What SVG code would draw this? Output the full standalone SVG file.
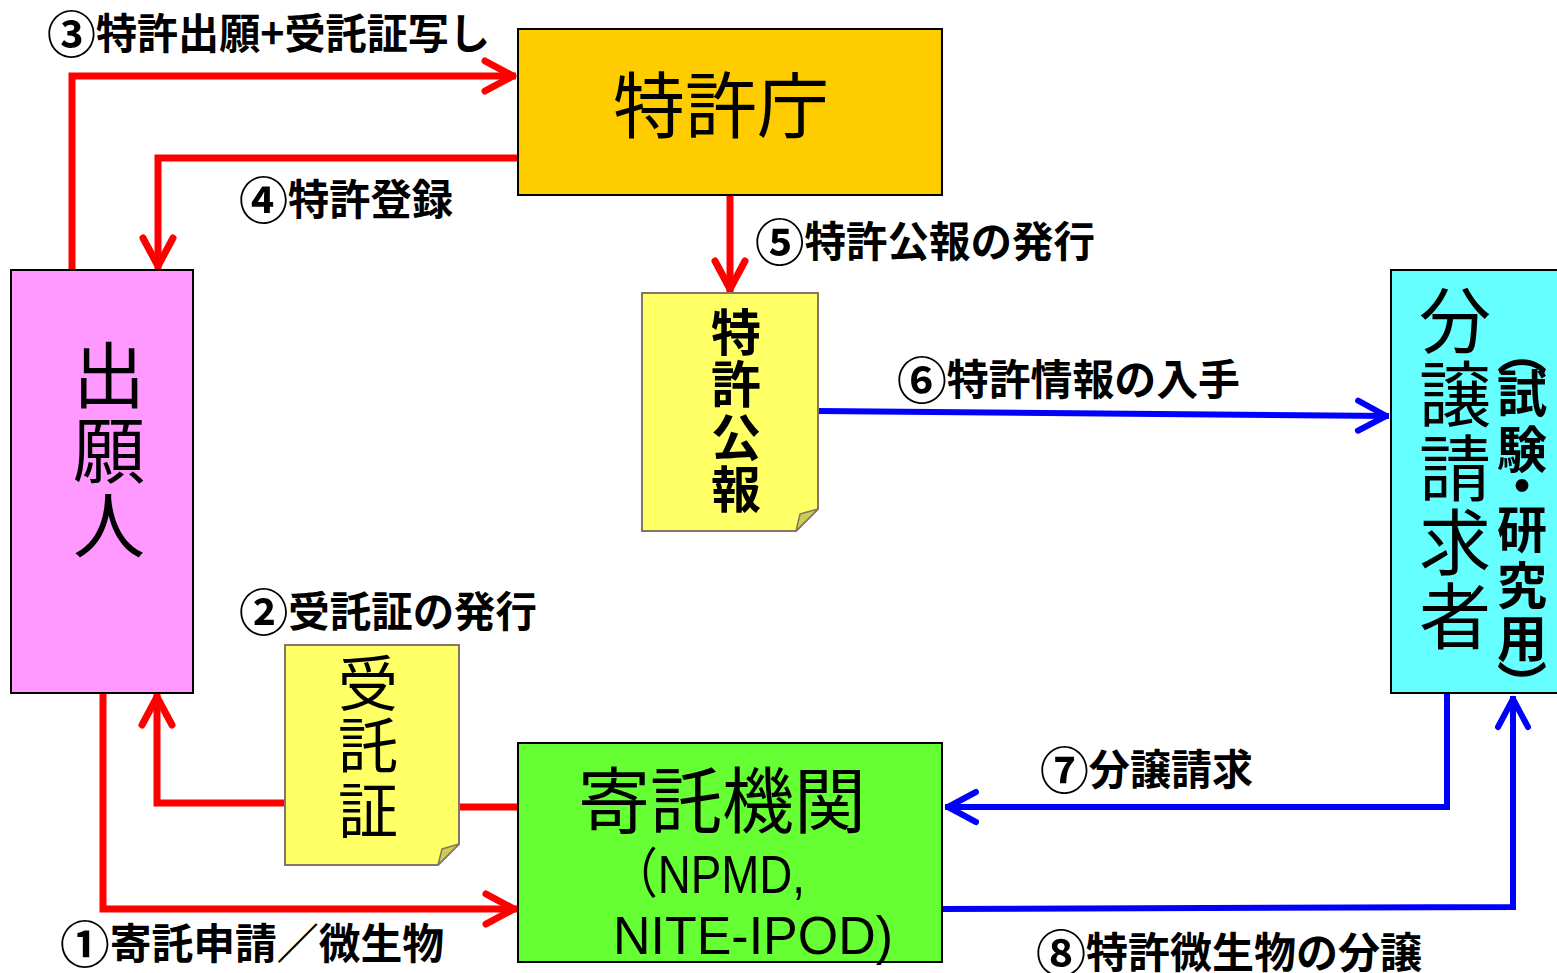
<svg xmlns="http://www.w3.org/2000/svg" width="1557" height="973" viewBox="0 0 1557 973">
<style>
.box{stroke:#000;stroke-width:2}
.note{fill:#FFFF66;stroke:#857565;stroke-width:2}
.fold{fill:#CDCD55;stroke:#857565;stroke-width:1.5;stroke-linejoin:round}
.big{font-family:"Noto Sans CJK JP","Noto Sans CJK SC",sans-serif;font-weight:400;fill:#000;text-anchor:middle}
.bv{font-family:"Noto Sans CJK JP","Noto Sans CJK SC",sans-serif;font-weight:700;fill:#000;text-anchor:middle}
.vt{font-family:"Noto Sans CJK JP","Noto Sans CJK SC",sans-serif;font-weight:700;fill:#000;writing-mode:vertical-rl}
.lbl{font-family:"Noto Sans CJK JP","Noto Sans CJK SC",sans-serif;font-weight:700;font-size:42px;fill:#000}
.cd{font-size:50px}
.lat{font-family:"Liberation Sans","Noto Sans CJK JP",sans-serif;font-size:54px;fill:#000}
.red{fill:none;stroke:#FF0000;stroke-width:7;stroke-linejoin:miter}
.blue{fill:none;stroke:#0000FF;stroke-width:6;stroke-linejoin:miter}
</style>
<defs>
<marker id="ar" markerUnits="userSpaceOnUse" viewBox="-40 -22 46 44" refX="0" refY="0" markerWidth="46" markerHeight="44" orient="auto" overflow="visible">
<path d="M-31,-15 L-3,0 L-31,15" fill="none" stroke="#FF0000" stroke-width="7" stroke-linecap="round" stroke-linejoin="round"/>
</marker>
<marker id="ab" markerUnits="userSpaceOnUse" viewBox="-40 -22 46 44" refX="0" refY="0" markerWidth="46" markerHeight="44" orient="auto" overflow="visible">
<path d="M-31,-15 L-3,0 L-31,15" fill="none" stroke="#0000FF" stroke-width="6" stroke-linecap="round" stroke-linejoin="round"/>
</marker>
</defs>
<rect width="1557" height="973" fill="#FFFFFF"/>

<g id="connectors">
<polyline class="red" points="72,270 72,76 516,76" marker-end="url(#ar)"/>
<polyline class="red" points="518,158 158,158 158,269" marker-end="url(#ar)"/>
<line class="red" x1="730" y1="195" x2="730" y2="292" marker-end="url(#ar)"/>
<line class="red" x1="459" y1="807" x2="518" y2="807"/>
<polyline class="red" points="285,803 157,803 157,694" marker-end="url(#ar)"/>
<polyline class="red" points="103,693 103,909 517,909" marker-end="url(#ar)"/>
<line class="blue" x1="818" y1="411" x2="1389" y2="416" marker-end="url(#ab)"/>
<polyline class="blue" points="1447,693 1447,807 945,807" marker-end="url(#ab)"/>
<polyline class="blue" points="942,909 1513,907 1513,696" marker-end="url(#ab)"/>
</g>

<g id="labels">
<text class="lbl" x="47" y="49" textLength="443" lengthAdjust="spacingAndGlyphs"><tspan class="cd" dy="4">③</tspan><tspan dy="-4">特許出願+受託証写し</tspan></text>
<text class="lbl" x="239" y="215" textLength="214" lengthAdjust="spacingAndGlyphs"><tspan class="cd" dy="4">④</tspan><tspan dy="-4">特許登録</tspan></text>
<text class="lbl" x="755" y="257" textLength="340" lengthAdjust="spacingAndGlyphs"><tspan class="cd" dy="4">⑤</tspan><tspan dy="-4">特許公報の発行</tspan></text>
<text class="lbl" x="897" y="395" textLength="343" lengthAdjust="spacingAndGlyphs"><tspan class="cd" dy="4">⑥</tspan><tspan dy="-4">特許情報の入手</tspan></text>
<text class="lbl" x="239" y="627" textLength="298" lengthAdjust="spacingAndGlyphs"><tspan class="cd" dy="4">②</tspan><tspan dy="-4">受託証の発行</tspan></text>
<text class="lbl" x="60" y="959" textLength="384" lengthAdjust="spacingAndGlyphs"><tspan class="cd" dy="4">①</tspan><tspan dy="-4">寄託申請／微生物</tspan></text>
<text class="lbl" x="1040" y="785" textLength="213" lengthAdjust="spacingAndGlyphs"><tspan class="cd" dy="4">⑦</tspan><tspan dy="-4">分譲請求</tspan></text>
<text class="lbl" x="1036" y="968" textLength="386" lengthAdjust="spacingAndGlyphs"><tspan class="cd" dy="4">⑧</tspan><tspan dy="-4">特許微生物の分譲</tspan></text>
</g>

<g id="tokkyocho">
<rect class="box" x="518" y="29" width="424" height="166" fill="#FFCC00"/>
<text class="big" x="721" y="132" font-size="72">特許庁</text>
</g>

<g id="shutsuganin">
<rect class="box" x="11" y="270" width="182" height="423" fill="#FF99FF"/>
<text class="big" x="109" y="402" font-size="72">出</text>
<text class="big" x="109" y="477" font-size="72">願</text>
<text class="big" x="109" y="552" font-size="72">人</text>
</g>

<g id="tokkyokoho">
<path class="note" d="M642,293 H818 V509 L796,531 H642 Z"/>
<path class="fold" d="M818,509 L800,514 L796,531 Z"/>
<text class="bv" x="736" y="351" font-size="50">特</text>
<text class="bv" x="736" y="403" font-size="50">許</text>
<text class="bv" x="736" y="456" font-size="50">公</text>
<text class="bv" x="736" y="508" font-size="50">報</text>
</g>

<g id="jutakusho">
<path class="note" d="M285,645 H459 V844 L438,865 H285 Z"/>
<path class="fold" d="M459,844 L442,849 L438,865 Z"/>
<text class="big" x="368" y="706" font-size="60">受</text>
<text class="big" x="368" y="768" font-size="60">託</text>
<text class="big" x="368" y="833" font-size="60">証</text>
</g>

<g id="kitakukikan">
<rect class="box" x="518" y="743" width="424" height="219" fill="#66FF33"/>
<text class="big" x="722" y="827" font-size="72">寄託機関</text>
<text class="lat" x="612" y="893" textLength="193" lengthAdjust="spacingAndGlyphs">（NPMD,</text>
<text class="lat" x="613" y="954" textLength="280" lengthAdjust="spacingAndGlyphs">NITE-IPOD)</text>
</g>

<g id="bunjoseikyusha">
<rect class="box" x="1391" y="270" width="180" height="423" fill="#66FFFF"/>
<text class="big" x="1455" y="347" font-size="72">分</text>
<text class="big" x="1455" y="421" font-size="72">譲</text>
<text class="big" x="1455" y="495" font-size="72">請</text>
<text class="big" x="1455" y="569" font-size="72">求</text>
<text class="big" x="1455" y="643" font-size="72">者</text>
<text class="vt" font-size="50" x="1522" y="326 368 424 460 504 560 613 660">（試験・研究用）</text>
</g>
</svg>
